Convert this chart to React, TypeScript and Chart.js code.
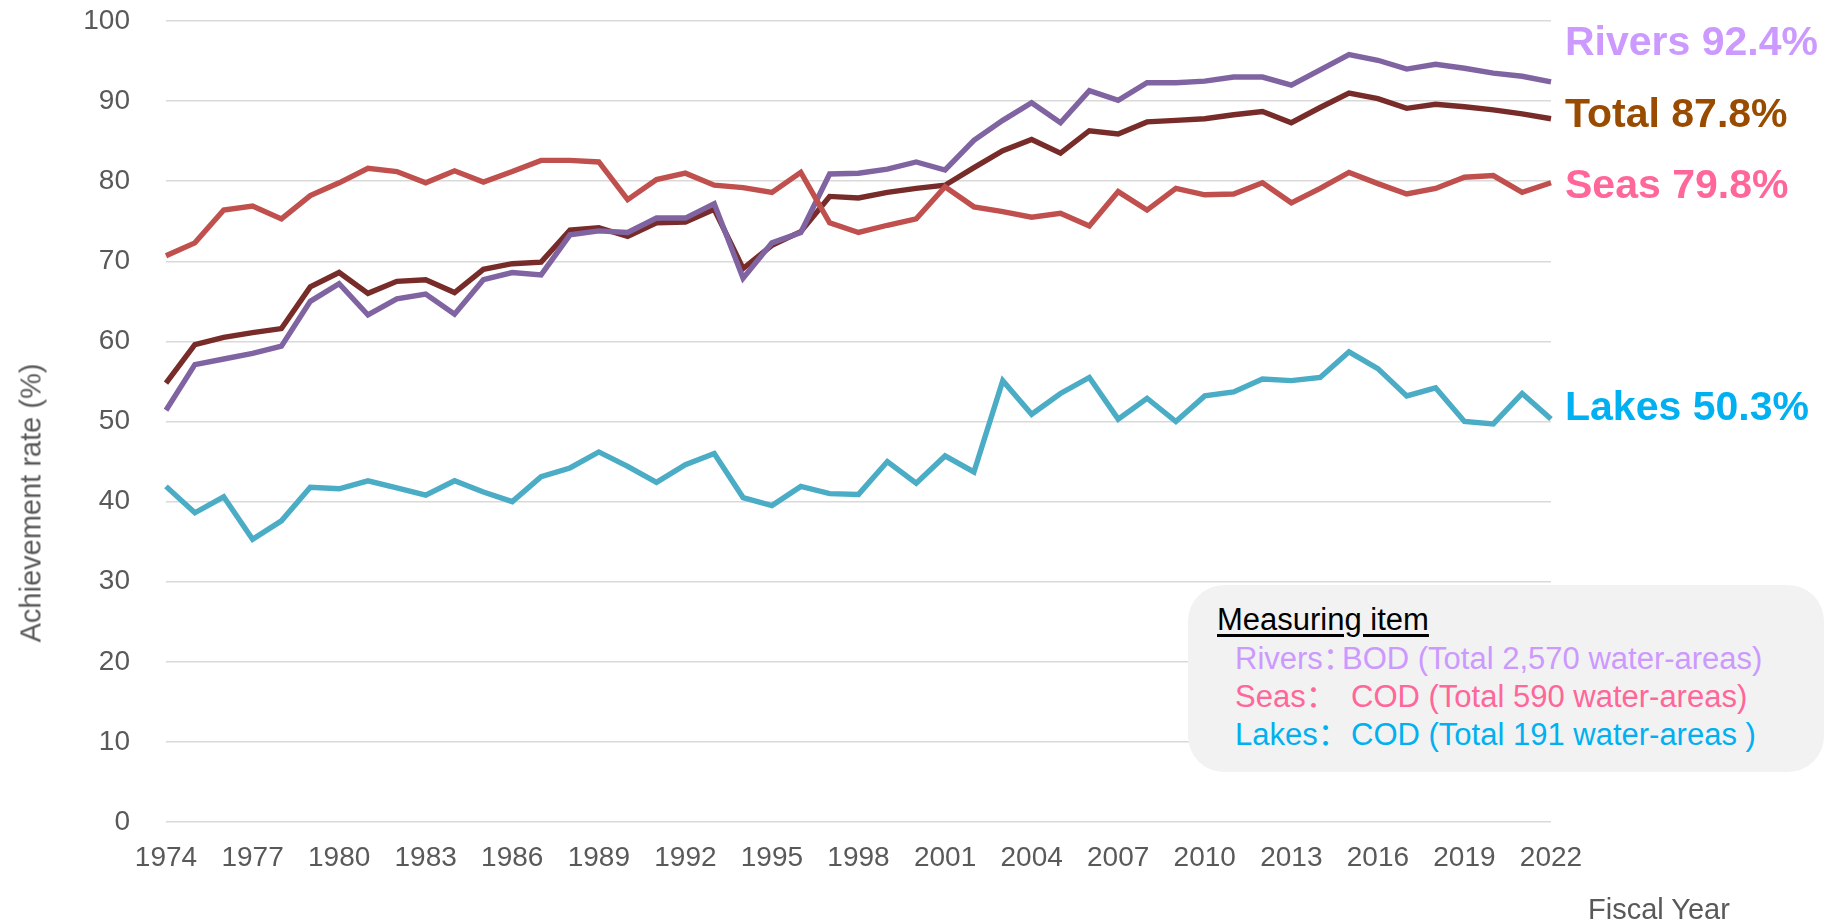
import React, { useEffect, useRef } from "react";
import { Chart, registerables } from "chart.js";

Chart.register(...registerables);

const years: number[] = [];
for (let y = 1974; y <= 2022; y++) years.push(y);

const riversValues = [
  51.4, 57.1, 57.8, 58.5, 59.4, 65.0, 67.2, 63.3, 65.3, 65.9,
  63.4, 67.7, 68.6, 68.3, 73.3, 73.8, 73.6, 75.4, 75.4, 77.2,
  67.9, 72.3, 73.6, 80.9, 81.0, 81.5, 82.4, 81.4, 85.1, 87.6,
  89.8, 87.3, 91.3, 90.1, 92.3, 92.3, 92.5, 93.0, 93.0, 92.0,
  93.9, 95.8, 95.1, 94.0, 94.6, 94.1, 93.5, 93.1, 92.4,
];

const totalValues = [
  54.8, 59.6, 60.5, 61.1, 61.6, 66.8, 68.6, 66.0, 67.5, 67.7,
  66.1, 69.0, 69.7, 69.9, 73.9, 74.2, 73.1, 74.8, 74.9, 76.5,
  69.1, 72.0, 73.7, 78.1, 77.9, 78.6, 79.1, 79.5, 81.7, 83.8,
  85.2, 83.5, 86.3, 85.9, 87.4, 87.6, 87.8, 88.3, 88.7, 87.3,
  89.2, 91.0, 90.3, 89.1, 89.6, 89.3, 88.9, 88.4, 87.8,
];

const seasValues = [
  70.7, 72.3, 76.4, 76.9, 75.3, 78.2, 79.8, 81.6, 81.2, 79.8,
  81.3, 79.9, 81.2, 82.6, 82.6, 82.4, 77.7, 80.2, 81.0, 79.5,
  79.2, 78.6, 81.1, 74.8, 73.6, 74.5, 75.3, 79.3, 76.8, 76.2,
  75.5, 76.0, 74.4, 78.7, 76.4, 79.1, 78.3, 78.4, 79.8, 77.3,
  79.1, 81.1, 79.7, 78.4, 79.1, 80.5, 80.7, 78.6, 79.8,
];

const lakesValues = [
  41.9, 38.6, 40.6, 35.3, 37.6, 41.8, 41.6, 42.6, 41.7, 40.8,
  42.6, 41.2, 40.0, 43.1, 44.2, 46.2, 44.4, 42.4, 44.6, 46.0,
  40.5, 39.5, 41.9, 41.0, 40.9, 45.0, 42.3, 45.7, 43.7, 55.1,
  50.9, 53.5, 55.5, 50.3, 52.9, 50.0, 53.2, 53.7, 55.3, 55.1,
  55.5, 58.7, 56.6, 53.2, 54.2, 50.0, 49.7, 53.5, 50.3,
];

const endLabels = [
  { text: "Rivers 92.4%", color: "#CC99FF", top: 17 },
  { text: "Total 87.8%", color: "#994C00", top: 89 },
  { text: "Seas 79.8%", color: "#FF6699", top: 160 },
  { text: "Lakes 50.3%", color: "#00B0F0", top: 382 },
];

const legendRows = [
  { label: "Rivers：", text: "BOD (Total 2,570 water-areas)", color: "#CC99FF", width: 107 },
  { label: "Seas：", text: "COD (Total 590 water-areas)", color: "#FF6699", width: 116 },
  { label: "Lakes：", text: "COD (Total 191 water-areas )", color: "#00B0F0", width: 116 },
];

const FONT = "'Liberation Sans', Arial, 'Noto Sans CJK SC', sans-serif";

export default function App() {
  const canvasRef = useRef<HTMLCanvasElement | null>(null);

  useEffect(() => {
    const canvas = canvasRef.current;
    if (!canvas) return;
    const chart = new Chart(canvas, {
      type: "line",
      data: {
        labels: years.map(String),
        datasets: [
          { label: "Seas", data: seasValues, borderColor: "#C0504D", order: 0 },
          { label: "Rivers", data: riversValues, borderColor: "#8064A2", order: 1 },
          { label: "Total", data: totalValues, borderColor: "#772C2A", order: 2 },
          { label: "Lakes", data: lakesValues, borderColor: "#4BACC6", order: 3 },
        ].map((d) => ({
          ...d,
          borderWidth: 5.4,
          pointRadius: 0,
          tension: 0,
          fill: false,
          borderJoinStyle: "miter" as const,
        })),
      },
      options: {
        responsive: false,
        animation: false,
        layout: { padding: { left: 0, top: 21, right: 283, bottom: 0 } },
        plugins: { legend: { display: false }, tooltip: { enabled: false } },
        scales: {
          x: {
            type: "category",
            offset: false,
            grid: { display: false, drawTicks: false },
            border: { display: false },
            ticks: {
              autoSkip: false,
              maxRotation: 0,
              minRotation: 0,
              padding: 19,
              color: "#595959",
              font: { family: FONT, size: 28 },
              callback: function (_v: any, i: number) {
                return (years[i] - 1974) % 3 === 0 ? String(years[i]) : null;
              },
            },
            afterFit: (s: any) => {
              s.height = 102;
              s.paddingLeft = 0;
              s.paddingRight = 0;
            },
          },
          y: {
            min: 0,
            max: 100,
            grid: { color: "#d9d9d9", lineWidth: 1.5, drawTicks: false },
            border: { display: false },
            ticks: {
              stepSize: 10,
              padding: 36,
              color: "#595959",
              font: { family: FONT, size: 28 },
            },
            afterFit: (s: any) => {
              s.width = 166;
              s.paddingTop = 0;
              s.paddingBottom = 0;
            },
          },
        },
      },
    });
    return () => chart.destroy();
  }, []);

  return (
    <div
      style={{
        position: "absolute",
        left: 0,
        top: 0,
        width: 1834,
        height: 924,
        background: "#fff",
        overflow: "hidden",
        fontFamily: FONT,
      }}
    >
      <canvas ref={canvasRef} width={1834} height={924} style={{ display: "block" }} />
      <div
        style={{
          position: "absolute",
          left: 31,
          top: 503,
          transform: "translate(-50%, -50%) rotate(-90deg)",
          whiteSpace: "nowrap",
          fontSize: 29,
          color: "#595959",
        }}
      >
        Achievement rate (%)
      </div>
      <div
        style={{
          position: "absolute",
          left: 1588,
          top: 893,
          whiteSpace: "nowrap",
          fontSize: 29,
          color: "#595959",
          lineHeight: "32px",
        }}
      >
        Fiscal Year
      </div>
      {endLabels.map((l) => (
        <div
          key={l.text}
          style={{
            position: "absolute",
            left: 1565,
            top: l.top,
            whiteSpace: "nowrap",
            fontSize: 41,
            fontWeight: 700,
            color: l.color,
            lineHeight: "48px",
          }}
        >
          {l.text}
        </div>
      ))}
      <div
        style={{
          position: "absolute",
          left: 1188,
          top: 585,
          width: 636,
          height: 187,
          background: "#f2f2f2",
          borderRadius: 36,
        }}
      >
        <div
          style={{
            position: "absolute",
            left: 29,
            top: 17,
            fontSize: 31,
            color: "#000",
            textDecoration: "underline",
            textUnderlineOffset: 4,
            whiteSpace: "nowrap",
            lineHeight: "36px",
          }}
        >
          Measuring item
        </div>
        {legendRows.map((r, i) => (
          <div
            key={r.label}
            style={{
              position: "absolute",
              left: 47,
              top: 56 + i * 38,
              fontSize: 31,
              color: r.color,
              whiteSpace: "nowrap",
              lineHeight: "36px",
              display: "flex",
            }}
          >
            <span style={{ display: "inline-block", width: r.width }}>{r.label}</span>
            <span>{r.text}</span>
          </div>
        ))}
      </div>
    </div>
  );
}
